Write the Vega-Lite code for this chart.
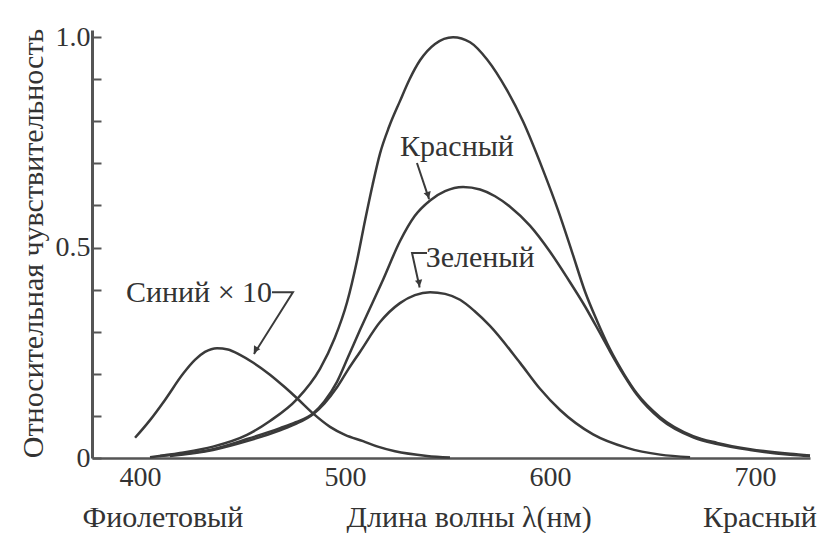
{
  "$schema": "https://vega.github.io/schema/vega-lite/v6.json",
  "width": 718,
  "height": 428,
  "autosize": {"type": "none"},
  "padding": {"left": 92, "top": 30, "right": 15, "bottom": 75},
  "background": "white",
  "config": {
    "view": {"stroke": null},
    "font": "Liberation Serif",
    "text": {"font": "Liberation Serif"}
  },
  "datasets": {
    "curves": [
      {"s": "T", "nm": 404.9, "v": 0.002}, {"s": "T", "nm": 419.5, "v": 0.012}, {"s": "T", "nm": 435.6, "v": 0.027},
      {"s": "T", "nm": 452.2, "v": 0.055}, {"s": "T", "nm": 463.4, "v": 0.088}, {"s": "T", "nm": 476.6, "v": 0.14},
      {"s": "T", "nm": 487.8, "v": 0.212}, {"s": "T", "nm": 495.0, "v": 0.285}, {"s": "T", "nm": 501.0, "v": 0.37},
      {"s": "T", "nm": 505.9, "v": 0.47}, {"s": "T", "nm": 509.8, "v": 0.565}, {"s": "T", "nm": 513.5, "v": 0.65},
      {"s": "T", "nm": 517.1, "v": 0.724}, {"s": "T", "nm": 521.5, "v": 0.787}, {"s": "T", "nm": 526.8, "v": 0.848},
      {"s": "T", "nm": 531.5, "v": 0.9}, {"s": "T", "nm": 536.6, "v": 0.945}, {"s": "T", "nm": 543.9, "v": 0.984},
      {"s": "T", "nm": 552.7, "v": 1.0}, {"s": "T", "nm": 561.0, "v": 0.988}, {"s": "T", "nm": 569.3, "v": 0.947},
      {"s": "T", "nm": 579.0, "v": 0.874}, {"s": "T", "nm": 586.8, "v": 0.8}, {"s": "T", "nm": 596.6, "v": 0.684},
      {"s": "T", "nm": 603.9, "v": 0.589}, {"s": "T", "nm": 610.7, "v": 0.49}, {"s": "T", "nm": 617.1, "v": 0.395},
      {"s": "T", "nm": 623.0, "v": 0.325}, {"s": "T", "nm": 629.3, "v": 0.258}, {"s": "T", "nm": 636.0, "v": 0.2},
      {"s": "T", "nm": 642.4, "v": 0.153}, {"s": "T", "nm": 653.7, "v": 0.097}, {"s": "T", "nm": 669.8, "v": 0.052},
      {"s": "T", "nm": 681.5, "v": 0.036}, {"s": "T", "nm": 697.6, "v": 0.021}, {"s": "T", "nm": 717.1, "v": 0.01},
      {"s": "T", "nm": 726.8, "v": 0.006},

      {"s": "R", "nm": 409.8, "v": 0.005}, {"s": "R", "nm": 435.6, "v": 0.021}, {"s": "R", "nm": 452.2, "v": 0.045},
      {"s": "R", "nm": 468.3, "v": 0.071}, {"s": "R", "nm": 476.0, "v": 0.085}, {"s": "R", "nm": 484.4, "v": 0.106},
      {"s": "R", "nm": 490.0, "v": 0.135}, {"s": "R", "nm": 496.1, "v": 0.181}, {"s": "R", "nm": 501.5, "v": 0.24},
      {"s": "R", "nm": 507.3, "v": 0.304}, {"s": "R", "nm": 518.5, "v": 0.423}, {"s": "R", "nm": 526.8, "v": 0.515},
      {"s": "R", "nm": 534.0, "v": 0.575}, {"s": "R", "nm": 541.5, "v": 0.612}, {"s": "R", "nm": 548.8, "v": 0.634},
      {"s": "R", "nm": 557.6, "v": 0.644}, {"s": "R", "nm": 565.9, "v": 0.638}, {"s": "R", "nm": 573.2, "v": 0.622},
      {"s": "R", "nm": 580.5, "v": 0.597}, {"s": "R", "nm": 590.2, "v": 0.552}, {"s": "R", "nm": 600.0, "v": 0.49},
      {"s": "R", "nm": 608.8, "v": 0.425}, {"s": "R", "nm": 617.1, "v": 0.36}, {"s": "R", "nm": 624.0, "v": 0.3},
      {"s": "R", "nm": 629.3, "v": 0.253}, {"s": "R", "nm": 636.0, "v": 0.197}, {"s": "R", "nm": 642.4, "v": 0.15},
      {"s": "R", "nm": 653.7, "v": 0.093}, {"s": "R", "nm": 669.8, "v": 0.049}, {"s": "R", "nm": 681.5, "v": 0.033},
      {"s": "R", "nm": 697.6, "v": 0.019}, {"s": "R", "nm": 717.1, "v": 0.008}, {"s": "R", "nm": 726.8, "v": 0.005},

      {"s": "G", "nm": 414.6, "v": 0.005}, {"s": "G", "nm": 435.6, "v": 0.019}, {"s": "G", "nm": 452.2, "v": 0.04},
      {"s": "G", "nm": 468.3, "v": 0.066}, {"s": "G", "nm": 476.0, "v": 0.081}, {"s": "G", "nm": 484.4, "v": 0.104},
      {"s": "G", "nm": 490.0, "v": 0.13}, {"s": "G", "nm": 496.1, "v": 0.168}, {"s": "G", "nm": 501.5, "v": 0.21},
      {"s": "G", "nm": 507.3, "v": 0.252}, {"s": "G", "nm": 517.1, "v": 0.323}, {"s": "G", "nm": 526.8, "v": 0.368},
      {"s": "G", "nm": 534.1, "v": 0.387}, {"s": "G", "nm": 541.5, "v": 0.394}, {"s": "G", "nm": 548.8, "v": 0.39},
      {"s": "G", "nm": 556.1, "v": 0.376}, {"s": "G", "nm": 563.0, "v": 0.35}, {"s": "G", "nm": 570.7, "v": 0.314},
      {"s": "G", "nm": 585.4, "v": 0.226}, {"s": "G", "nm": 595.0, "v": 0.165}, {"s": "G", "nm": 604.9, "v": 0.114},
      {"s": "G", "nm": 621.0, "v": 0.056}, {"s": "G", "nm": 637.6, "v": 0.024}, {"s": "G", "nm": 653.7, "v": 0.008},
      {"s": "G", "nm": 668.3, "v": 0.002},

      {"s": "B", "nm": 397.6, "v": 0.048}, {"s": "B", "nm": 404.9, "v": 0.09}, {"s": "B", "nm": 412.2, "v": 0.138},
      {"s": "B", "nm": 421.0, "v": 0.2}, {"s": "B", "nm": 426.8, "v": 0.233}, {"s": "B", "nm": 431.7, "v": 0.252},
      {"s": "B", "nm": 437.6, "v": 0.261}, {"s": "B", "nm": 442.9, "v": 0.258}, {"s": "B", "nm": 448.8, "v": 0.245},
      {"s": "B", "nm": 455.1, "v": 0.227}, {"s": "B", "nm": 463.4, "v": 0.198}, {"s": "B", "nm": 470.7, "v": 0.168},
      {"s": "B", "nm": 476.6, "v": 0.142}, {"s": "B", "nm": 484.4, "v": 0.106}, {"s": "B", "nm": 492.7, "v": 0.074},
      {"s": "B", "nm": 500.0, "v": 0.055}, {"s": "B", "nm": 508.8, "v": 0.04}, {"s": "B", "nm": 516.0, "v": 0.027},
      {"s": "B", "nm": 524.4, "v": 0.016}, {"s": "B", "nm": 540.0, "v": 0.005}, {"s": "B", "nm": 551.2, "v": 0.001}
    ],
    "labels": [
      {"t": "Красный", "nm": 554.6, "v": 0.739},
      {"t": "Зеленый", "nm": 565.9, "v": 0.475},
      {"t": "Синий × 10", "nm": 428.8, "v": 0.392}
    ],
    "bottom": [
      {"t": "Фиолетовый", "nm": 411.2, "v": -0.164},
      {"t": "Длина волны λ(нм)", "nm": 560.5, "v": -0.164},
      {"t": "Красный", "nm": 702.4, "v": -0.164}
    ],
    "leaders": [
      {"g": "r", "o": 1, "nm": 535.1, "v": 0.701}, {"g": "r", "o": 2, "nm": 541.0, "v": 0.615},
      {"g": "g", "o": 1, "nm": 540.0, "v": 0.487}, {"g": "g", "o": 2, "nm": 532.7, "v": 0.487}, {"g": "g", "o": 3, "nm": 536.4, "v": 0.405},
      {"g": "b", "o": 1, "nm": 464.4, "v": 0.394}, {"g": "b", "o": 2, "nm": 474.6, "v": 0.394}, {"g": "b", "o": 3, "nm": 455.6, "v": 0.247}
    ],
    "arrows": [
      {"nm": 540.4, "v": 0.627, "a": 162},
      {"nm": 536.1, "v": 0.418, "a": 168},
      {"nm": 456.6, "v": 0.259, "a": 212}
    ]
  },
  "encoding": {
    "x": {
      "field": "nm", "type": "quantitative",
      "scale": {"domain": [376.6, 726.8], "nice": false, "zero": false},
      "axis": {
        "title": null, "values": [400, 500, 600, 700], "ticks": false, "grid": false,
        "labelFont": "Liberation Serif", "labelFontSize": 28, "labelColor": "#333",
        "domainColor": "#555", "domainWidth": 2.5, "labelPadding": 5
      }
    },
    "y": {
      "field": "v", "type": "quantitative",
      "scale": {"domain": [0, 1.017], "nice": false, "zero": false},
      "axis": {
        "values": [0, 0.1, 0.2, 0.3, 0.4, 0.5, 0.6, 0.7, 0.8, 0.9, 1.0],
        "labelExpr": "datum.value == 0 ? '0' : datum.value == 0.5 ? '0.5' : datum.value == 1 ? '1.0' : ''",
        "grid": false, "tickSize": -9, "tickWidth": 2, "tickColor": "#555",
        "domainColor": "#555", "domainWidth": 3,
        "labelFont": "Liberation Serif", "labelFontSize": 28, "labelColor": "#333", "labelPadding": 11,
        "title": "Относительная чувствительность",
        "titleFont": "Liberation Serif", "titleFontSize": 30, "titleFontWeight": "normal", "titleColor": "#333",
        "titleAngle": -90, "titleX": -59, "titleY": 213, "titleAlign": "center", "titleBaseline": "middle"
      }
    }
  },
  "layer": [
    {
      "data": {"name": "curves"},
      "mark": {"type": "line", "interpolate": "monotone", "strokeWidth": 2.5, "color": "#3a3a3a", "clip": false},
      "encoding": {"detail": {"field": "s"}}
    },
    {
      "data": {"name": "leaders"},
      "mark": {"type": "line", "strokeWidth": 2, "color": "#3a3a3a"},
      "encoding": {"detail": {"field": "g"}, "order": {"field": "o"}}
    },
    {
      "data": {"name": "arrows"},
      "mark": {"type": "point", "shape": "triangle", "filled": true, "size": 55, "color": "#3a3a3a", "opacity": 1},
      "encoding": {"angle": {"field": "a", "type": "quantitative", "scale": null}}
    },
    {
      "data": {"name": "labels"},
      "mark": {"type": "text", "fontSize": 30, "color": "#333", "baseline": "middle", "align": "center"},
      "encoding": {"text": {"field": "t"}}
    },
    {
      "data": {"name": "bottom"},
      "mark": {"type": "text", "fontSize": 30, "color": "#333", "baseline": "alphabetic", "align": "center"},
      "encoding": {"text": {"field": "t"}}
    }
  ]
}
